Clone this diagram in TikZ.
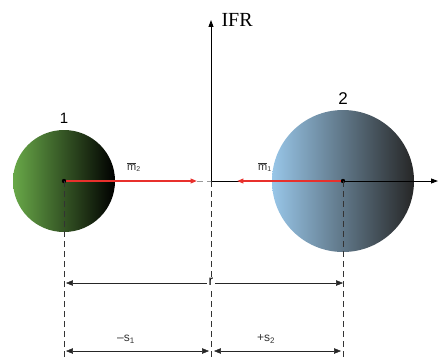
\documentclass[tikz,border=0pt]{standalone}
\usepackage{fontspec}
\setmainfont{Liberation Sans}
\newfontfamily\ifrfont{Liberation Serif}
\usetikzlibrary{arrows.meta,positioning}
\definecolor{ballgreen}{RGB}{104,168,72}
\definecolor{ballblue}{RGB}{152,198,232}
\definecolor{forcered}{RGB}{232,48,44}

\begin{document}
\begin{tikzpicture}[x=1pt, y=-1pt,
  ball/.style={circle, inner sep=0pt, draw=none},
  axis/.style={-{Triangle[length=2.4mm,width=1.7mm]}, line width=0.9pt},
  force/.style={-{Triangle[length=2.2mm,width=1.6mm]}, line width=1.5pt, forcered},
  guide/.style={dash pattern=on 6pt off 4pt, black!80, line width=0.6pt},
  dimarr/.style={{Triangle[length=2.4mm,width=1.9mm]}-{Triangle[length=2.4mm,width=1.9mm]}, line width=0.5pt, black!85},
  lbl/.style={font=\fontsize{11}{13}\selectfont, black!80},
  node distance=2pt
]
\useasboundingbox (0,0) rectangle (438,360);
\coordinate (O) at (211,181);
\coordinate (c1) at (64,181);
\coordinate (c2) at (343,181);
\coordinate (ytop) at (211,20);
\coordinate (xend) at (438,181);
\coordinate (f1) at (197,181);
\coordinate (f2) at (237,181);

\node[ball, minimum size=102pt, left color=ballgreen, middle color=ballgreen!60!black, right color=black] (b1) at (c1) {};
\node[ball, minimum size=142pt, left color=ballblue, middle color=ballblue!65!black, right color=black!85] (b2) at (c2) {};
\node[above=3pt of b1, font=\fontsize{15}{17}\selectfont] (n1) {1};
\node[above=2pt of b2, font=\fontsize{17}{19}\selectfont] (n2) {2};

% axes of the frame
\draw[axis] (O) -- (ytop);
\draw[axis] (O) -- (xend);
\node[anchor=west, font=\ifrfont\fontsize{20}{22}\selectfont] (ifr) at (218,20) {IFR};
\draw[guide, black!40] (f1) -- (O);

% forces
\draw[force] (c1) -- (f1);
\draw[force] (c2) -- (f2);
\node[lbl] (m2) at (134,167) {$\overline{\mbox{m}}_{\mbox{\scriptsize 2}}$};
\node[lbl] (m1) at (265,167) {$\overline{\mbox{m}}_{\mbox{\scriptsize 1}}$};
\fill (c1) circle (2.2pt);
\fill (c2) circle (2.2pt);

% guides and distances
\coordinate (g1) at (64,358);
\coordinate (g0) at (211,358);
\coordinate (g2) at (343,358);
\draw[guide] (c1) -- (g1);
\draw[guide] (O) -- (g0);
\draw[guide] (c2) -- (g2);
\coordinate (ra) at (66,283);
\coordinate (rb) at (343,283);
\draw[dimarr] (ra) -- (rb);
\node[fill=white, inner sep=1.5pt, font=\fontsize{14}{16}\selectfont] (r) at (211,282) {r};
\coordinate (sa) at (66,351);
\coordinate (sb) at (209,351);
\coordinate (sc) at (214,351);
\coordinate (sd) at (341,351);
\draw[dimarr] (sa) -- (sb);
\draw[dimarr] (sc) -- (sd);
\node[lbl, font=\fontsize{12}{14}\selectfont] (s1) at (126,339) {--s\textsubscript{1}};
\node[lbl, font=\fontsize{12}{14}\selectfont] (s2) at (266,339) {+s\textsubscript{2}};
\end{tikzpicture}
\end{document}
